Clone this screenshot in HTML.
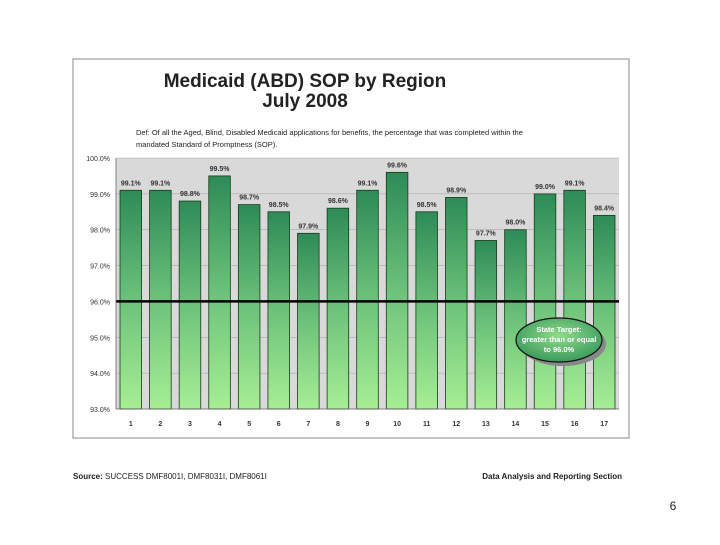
<!DOCTYPE html>
<html><head><meta charset="utf-8"><style>
body{margin:0;background:#fff;width:720px;height:540px;overflow:hidden;font-family:"Liberation Sans",sans-serif;}
</style></head><body>
<svg width="720" height="540">
<defs>
<linearGradient id="bg" x1="0" y1="0" x2="0" y2="1">
<stop offset="0" stop-color="#2e8b57"/><stop offset="0.5" stop-color="#6cc27a"/><stop offset="1" stop-color="#a6ee94"/>
</linearGradient>
<radialGradient id="eg" cx="0.5" cy="0.4" r="0.6"><stop offset="0" stop-color="#8fdc8a"/><stop offset="1" stop-color="#3a9a5c"/></radialGradient>
</defs>
<rect x="73" y="59" width="556" height="379" fill="#fff" stroke="#888"/>
<text x="305" y="87" text-anchor="middle" font-size="19" font-weight="bold" fill="#222">Medicaid (ABD) SOP by Region</text>
<text x="305" y="107" text-anchor="middle" font-size="19" font-weight="bold" fill="#222">July 2008</text>
<text x="136" y="135" font-size="7.5" fill="#222">Def: Of all the Aged, Blind, Disabled Medicaid applications for benefits, the percentage that was completed within the</text>
<text x="136" y="147" font-size="7.5" fill="#222">mandated Standard of Promptness (SOP).</text>
<rect x="116" y="158" width="503" height="251" fill="#d9d9d9"/>
<g id="grid"></g><g id="bars"></g><g id="axes"></g>
<g>
<ellipse cx="563" cy="344" rx="43" ry="22" fill="#888"/>
<ellipse cx="559" cy="340" rx="43" ry="22" fill="url(#eg)" stroke="#111" stroke-width="1.2"/>
<text x="559" y="332" text-anchor="middle" font-size="7.5" font-weight="bold" fill="#fff">State Target:</text>
<text x="559" y="342" text-anchor="middle" font-size="7.5" font-weight="bold" fill="#fff">greater than or equal</text>
<text x="559" y="352" text-anchor="middle" font-size="7.5" font-weight="bold" fill="#fff">to 96.0%</text>
</g>
<text x="73" y="479" font-size="8" fill="#222"><tspan font-weight="bold">Source:</tspan> SUCCESS DMF8001I, DMF8031I, DMF8061I</text>
<text x="622" y="479" text-anchor="end" font-size="8" font-weight="bold" fill="#222">Data Analysis and Reporting Section</text>
<text x="673" y="510" text-anchor="middle" font-size="12" fill="#222">6</text>
</svg>
<script>
const categories=["1","2","3","4","5","6","7","8","9","10","11","12","13","14","15","16","17"];
const values=[99.1,99.1,98.8,99.5,98.7,98.5,97.9,98.6,99.1,99.6,98.5,98.9,97.7,98.0,99.0,99.1,98.4];
const yTicks=[93,94,95,96,97,98,99,100];
const target=[96.0];
const NS="http://www.w3.org/2000/svg";
const L=116,R=619,T=158,B=409,ymin=93,ymax=100;
const y=v=>B-(v-ymin)/(ymax-ymin)*(B-T);
const bw=(R-L)/categories.length;
const x=i=>L+i*bw;
function mk(t,a,p){const e=document.createElementNS(NS,t);for(const k in a)e.setAttribute(k,a[k]);p.appendChild(e);return e;}
const G=document.getElementById('grid'),BA=document.getElementById('bars'),AX=document.getElementById('axes');
yTicks.forEach(v=>{
 const l=mk('line',{x1:L,x2:R,y1:y(v),y2:y(v),stroke:'#aaa','stroke-width':0.6},G);
 
 
 const t=mk('text',{x:L-6,y:y(v)+3,'text-anchor':'end','font-size':7,fill:'#333'},AX);
 t.textContent=v.toFixed(1)+'%';
 
 
});
values.forEach((v,i)=>{
 const r=mk('rect',{x:x(i)+4,y:y(v),width:bw-8,height:B-y(v),fill:'url(#bg)',stroke:'#1a3a1a','stroke-width':0.8},BA);
 
 
 const t=mk('text',{x:x(i)+bw/2,y:y(v)-5,'text-anchor':'middle','font-size':7,'font-weight':'bold',fill:'#333'},AX);
 t.textContent=v.toFixed(1)+'%';
 
 
 const c=mk('text',{x:x(i)+bw/2,y:B+17,'text-anchor':'middle','font-size':7,'font-weight':'bold',fill:'#333'},AX);
 c.textContent=categories[i];
 
 
});
const tl=mk('line',{x1:L,x2:R,y1:y(target[0]),y2:y(target[0]),stroke:'#000','stroke-width':2.5},AX);


const ya=mk('line',{x1:L,x2:L,y1:T,y2:B,stroke:'#666','stroke-width':0.8},AX);


const xa=mk('line',{x1:L,x2:R,y1:B,y2:B,stroke:'#666','stroke-width':0.8},AX);


</script>
</body></html>
